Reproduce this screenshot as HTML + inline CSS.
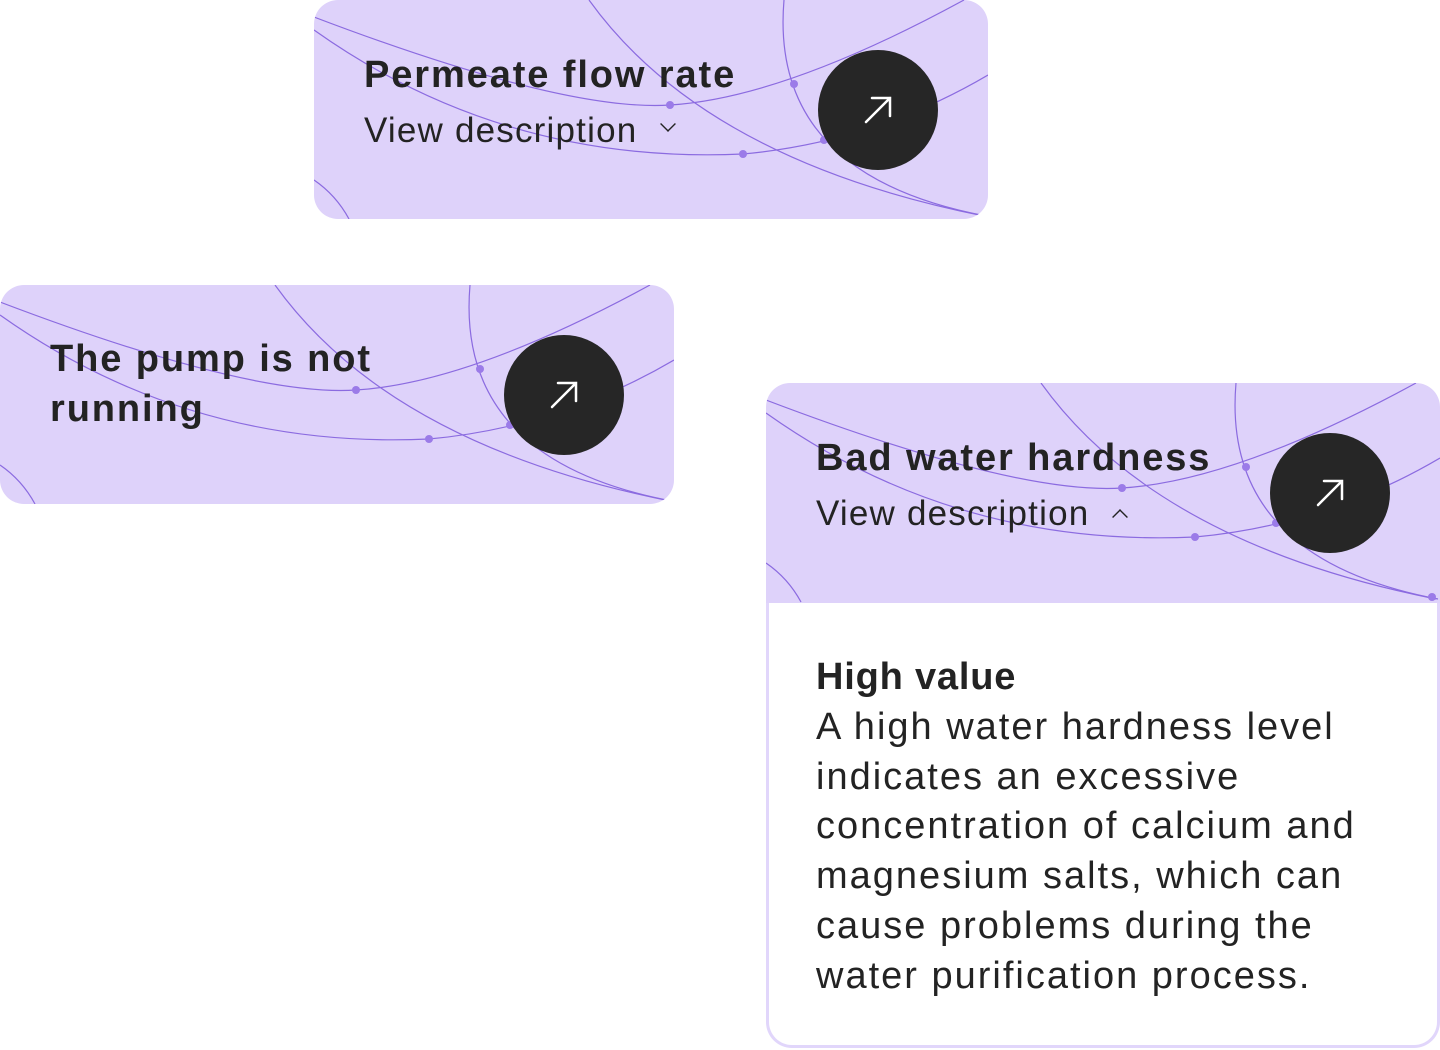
<!DOCTYPE html>
<html><head><meta charset="utf-8"><style>
body{margin:0;width:1440px;height:1050px;background:#fff;position:relative;overflow:hidden;font-family:"Liberation Sans",sans-serif;color:#232323}
.card{position:absolute;width:674px;height:219px;background:#ded2fa;border-radius:24px;overflow:hidden}
.card svg{position:absolute;left:0;top:0}
.t{position:absolute;font-weight:bold;font-size:38px;letter-spacing:1.9px;white-space:nowrap;line-height:50px}
.d{position:absolute;font-size:35px;letter-spacing:1.2px;white-space:nowrap}
.body{position:absolute;left:766px;top:600px;width:668px;height:445px;border:3px solid #e1d6fb;border-top:none;border-radius:0 0 26px 26px;background:#fff}
</style></head><body>
<svg width="0" height="0" style="position:absolute">
<defs>
<g id="pat">
<g fill="none" stroke="#8b6be0" stroke-width="1.2">
<path d="M0,17 Q250,112 356,105 Q470,98 650,0"/>
<path d="M0,30 Q190,165 429,154 Q560,142 674,75"/>
<path d="M275,0 Q390,160 670,216"/>
<path d="M470,0 Q455,175 672,216"/>
<path d="M0,180 Q22,195 35,219"/>
</g>
<g fill="#9b7be8"><circle cx="356" cy="105" r="4"/><circle cx="480" cy="84" r="4"/><circle cx="429" cy="154" r="4"/><circle cx="510" cy="140" r="4"/></g>
<circle cx="564" cy="110" r="60" fill="#262626"/>
<g stroke="#fff" stroke-width="2.5" fill="none" stroke-linecap="round"><path d="M552,122 L576,98 M558,98 L576,98 L576,116"/></g>
</g>
</defs></svg>

<div class="card" style="left:314px;top:0">
<svg width="674" height="219"><use href="#pat"/></svg>
<div class="t" style="left:50px;top:50px">Permeate flow rate</div>
<div class="d" style="left:50px;top:111px">View description <span style="display:inline-block;width:14px;height:14px;border-right:2px solid #232323;border-bottom:2px solid #232323;transform:translate(12px,-10px) rotate(45deg) scale(.7)"></span></div>
</div>

<div class="card" style="left:0;top:285px">
<svg width="674" height="219"><use href="#pat"/></svg>
<div class="t" style="left:50px;top:49px">The pump is not<br>running</div>
</div>

<div class="body">
<div style="position:absolute;left:47px;top:56px;font-size:38px;font-weight:bold;letter-spacing:0.8px">High value</div>
<div style="position:absolute;left:47px;top:103px;font-size:38px;letter-spacing:2px;line-height:49.7px;width:640px;white-space:nowrap">A high water hardness level<br>indicates an excessive<br>concentration of calcium and<br>magnesium salts, which can<br>cause problems during the<br>water purification process.</div>
</div>

<div class="card" style="left:766px;top:383px;height:220px;border-radius:24px 24px 0 0">
<svg width="674" height="220"><use href="#pat"/><circle cx="666" cy="214" r="4" fill="#9b7be8"/></svg>
<div class="t" style="left:50px;top:50px">Bad water hardness</div>
<div class="d" style="left:50px;top:111px">View description <span style="display:inline-block;width:14px;height:14px;border-left:2px solid #232323;border-top:2px solid #232323;transform:translate(12px,0px) rotate(45deg) scale(.7)"></span></div>
</div>
</body></html>
